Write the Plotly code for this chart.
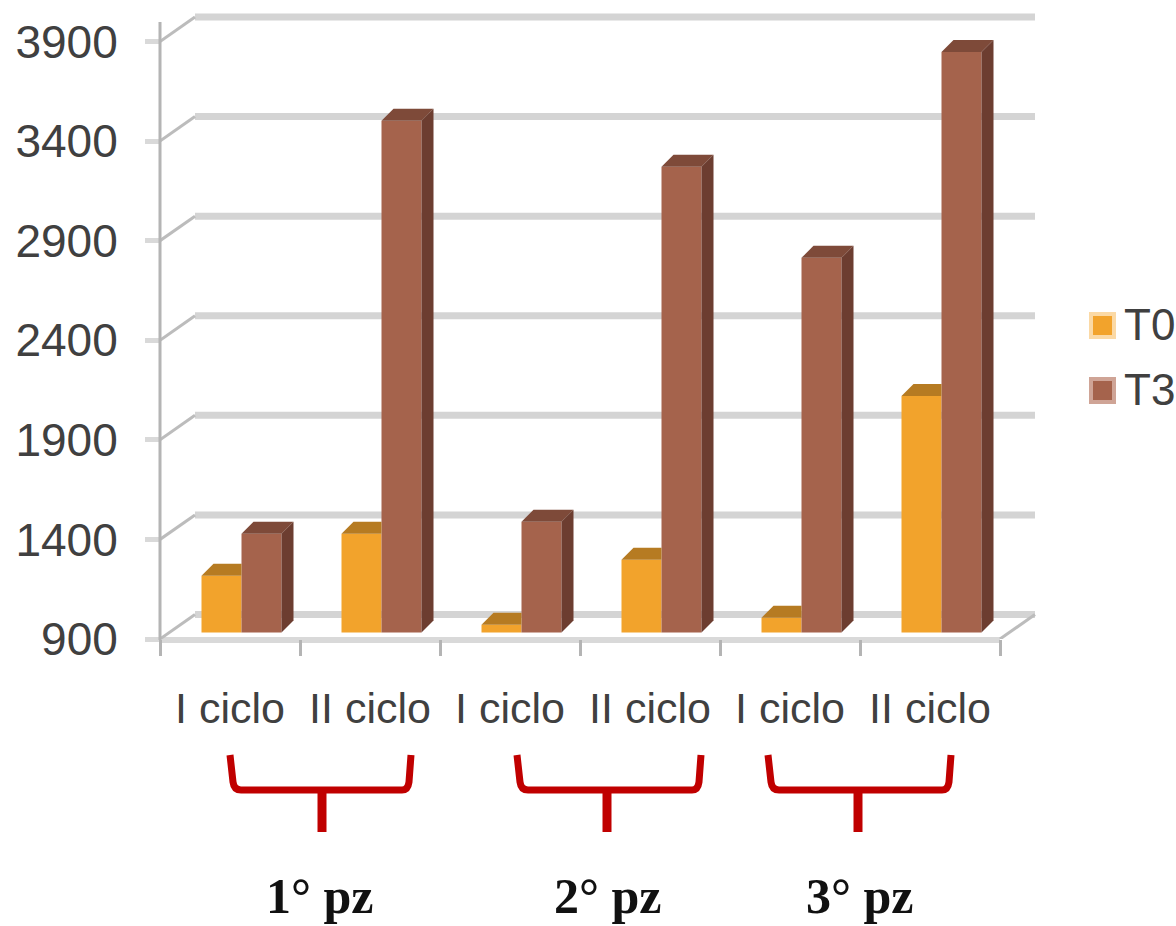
import plotly.graph_objects as go

# Series values per treatment cycle
categories = ["I ciclo", "II ciclo", "I ciclo", "II ciclo", "I ciclo", "II ciclo"]
t0_values = [1185, 1396, 939, 1265, 974, 2088]
t3_values = [1396, 3469, 1456, 3238, 2781, 3815]
y_ticks = [900, 1400, 1900, 2400, 2900, 3400, 3900]
series_names = ["T0", "T3"]
patient_labels = ["1° pz", "2° pz", "3° pz"]

# Page and plot box, in pixels
W, H = 1176, 926
L, R, T, B = 160, 1036, 8, 639
PX_X = 140
PX_Y = 0.19917
Y_MIN = y_ticks[0]
Y_MAX = Y_MIN + (B - T) / PX_Y
X_MAX = (R - L) / PX_X

# Depth offsets of the pseudo-3D box, in data units
WALL_DX, WALL_DY = 35 / PX_X, 24.5 / PX_Y
BAR_DX, BAR_DY = 12 / PX_X, 12 / PX_Y
FLOOR = 6.5 / PX_Y
BAR_W = 40 / PX_X
PAIR_SHIFT = 11.5 / PX_X

T0_COLORS = dict(front="#f2a32c", top="#b67b22", side="#8f5f1c")
T3_COLORS = dict(front="#a5634c", top="#7e4a39", side="#6c3d30")
GRID = "#d4d4d4"
DIAG = "#bcbcbc"
AXIS = "#b4b4b4"
TEXT = "#404040"
BRACE = "#c00000"


def px_x(px):
    return (px - L) / (R - L)


def px_y(py):
    return (B - py) / (B - T)


centers = [i + 0.5 for i in range(len(categories))]
bar_base = Y_MIN + FLOOR

fig = go.Figure()


def add_series(name, values, colors, x0_offset, trim_right):
    """Front faces as bars, top and side faces as filled polygons behind them."""
    lefts = [c + PAIR_SHIFT + x0_offset for c in centers]
    fig.add_trace(go.Bar(
        x=centers, y=[v - Y_MIN for v in values], base=bar_base,
        width=BAR_W, offset=PAIR_SHIFT + x0_offset,
        marker=dict(color=colors["front"], line=dict(width=0)),
        name=name, showlegend=False,
        customdata=values, hovertemplate=name + ": %{customdata}<extra></extra>",
    ))
    for x0, v in zip(lefts, values):
        x1 = x0 + BAR_W
        top = v + FLOOR
        if trim_right:
            # The neighbouring taller bar hides everything past the right edge
            xs = [x0, x0 + BAR_DX, x1, x1, x0]
            ys = [top, top + BAR_DY, top + BAR_DY, top, top]
            fig.add_trace(go.Scatter(x=xs, y=ys, mode="none", fill="toself",
                                     fillcolor=colors["top"], showlegend=False,
                                     hoverinfo="skip"))
        else:
            xs = [x0, x0 + BAR_DX, x1 + BAR_DX, x1, x0]
            ys = [top, top + BAR_DY, top + BAR_DY, top, top]
            fig.add_trace(go.Scatter(x=xs, y=ys, mode="none", fill="toself",
                                     fillcolor=colors["top"], showlegend=False,
                                     hoverinfo="skip"))
            xs = [x1, x1 + BAR_DX, x1 + BAR_DX, x1, x1]
            ys = [bar_base, bar_base + BAR_DY, top + BAR_DY, top, bar_base]
            fig.add_trace(go.Scatter(x=xs, y=ys, mode="none", fill="toself",
                                     fillcolor=colors["side"], showlegend=False,
                                     hoverinfo="skip"))


add_series(series_names[0], t0_values, T0_COLORS, -BAR_W, True)
add_series(series_names[1], t3_values, T3_COLORS, 0, False)

shapes = []

# Back wall gridlines and the diagonal wall edges
for v in y_ticks:
    shapes.append(dict(type="line", layer="below", xref="x", yref="y",
                       x0=WALL_DX, x1=6 + WALL_DX, y0=v + WALL_DY, y1=v + WALL_DY,
                       line=dict(color=GRID, width=7)))
    shapes.append(dict(type="line", layer="below", xref="x", yref="y",
                       x0=0, x1=WALL_DX, y0=v, y1=v + WALL_DY,
                       line=dict(color=DIAG, width=3)))

# Floor: front edge and right-hand diagonal
shapes.append(dict(type="line", layer="below", xref="x", yref="paper",
                   x0=-0.1, x1=6, y0=px_y(640), y1=px_y(640),
                   line=dict(color="#d9d9d9", width=6)))
shapes.append(dict(type="line", layer="below", xref="x", yref="y",
                   x0=6, x1=6 + WALL_DX, y0=Y_MIN, y1=Y_MIN + WALL_DY,
                   line=dict(color=DIAG, width=3)))

# Vertical axis line
shapes.append(dict(type="line", layer="above", xref="paper", yref="paper",
                   x0=0, x1=0, y0=px_y(22), y1=px_y(640),
                   line=dict(color=AXIS, width=3)))

# Red braces under each patient's pair of cycles
brace_spans = [(230, 411, 322), (517, 701, 607), (768, 951, 858)]
for left, right, stem in brace_spans:
    path = (
        f"M {px_x(left)},{px_y(755)} L {px_x(left + 3)},{px_y(782)} "
        f"Q {px_x(left + 4)},{px_y(790)} {px_x(left + 11)},{px_y(790)} "
        f"L {px_x(right - 9)},{px_y(790)} "
        f"Q {px_x(right - 3)},{px_y(790)} {px_x(right - 2)},{px_y(782)} "
        f"L {px_x(right)},{px_y(755)}"
    )
    shapes.append(dict(type="path", xref="paper", yref="paper", path=path,
                       line=dict(color=BRACE, width=7)))
    shapes.append(dict(type="line", xref="paper", yref="paper",
                       x0=px_x(stem), x1=px_x(stem), y0=px_y(788), y1=px_y(832),
                       line=dict(color=BRACE, width=9)))

# Legend swatches
legend_rows = [(series_names[0], 325.5, "#f2a32c", "#fbd9a5"),
               (series_names[1], 390.5, "#a5634c", "#cfa496")]
for _, yc, fill, edge in legend_rows:
    shapes.append(dict(type="rect", xref="paper", yref="paper",
                       x0=px_x(1091), x1=px_x(1114), y0=px_y(yc - 11.5), y1=px_y(yc + 11.5),
                       fillcolor=fill, line=dict(color=edge, width=4)))

annotations = [
    dict(xref="paper", yref="paper", x=px_x(1122), y=px_y(yc - 1), text=name,
         xanchor="left", yanchor="middle", showarrow=False,
         font=dict(family="Liberation Sans", size=44, color=TEXT))
    for name, yc, _, _ in legend_rows
]
annotations += [
    dict(xref="paper", yref="paper", x=px_x(xc), y=px_y(896), text=label,
         xanchor="center", yanchor="middle", showarrow=False,
         font=dict(family="Liberation Serif", size=50, color="#111111", weight="bold"))
    for label, xc in zip(patient_labels, [320, 608, 860])
]

fig.update_layout(
    width=W, height=H,
    margin=dict(l=L, r=W - R, t=T, b=H - B, pad=0),
    paper_bgcolor="white", plot_bgcolor="white",
    barmode="overlay", showlegend=False,
    shapes=shapes, annotations=annotations,
    xaxis=dict(
        range=[0, X_MAX], showgrid=False, zeroline=False, showline=False,
        tickmode="array", tickvals=centers, ticktext=categories, tickangle=0,
        ticks="outside", ticklen=0, tickwidth=0,
        ticklabelstandoff=31,
        tickfont=dict(family="Liberation Sans", size=43, color=TEXT),
        minor=dict(tickmode="array", tickvals=list(range(7)), ticks="outside",
                   ticklen=16, tickwidth=3, tickcolor=AXIS, showgrid=False),
    ),
    yaxis=dict(
        range=[Y_MIN, Y_MAX], showgrid=False, zeroline=False, showline=False,
        tickmode="array", tickvals=y_ticks,
        ticks="outside", ticklen=14, tickwidth=5, tickcolor="#d9d9d9",
        ticklabelstandoff=18,
        tickfont=dict(family="Liberation Sans", size=46, color=TEXT),
    ),
)

fig.write_html("out.html", config=dict(displayModeBar=False))
